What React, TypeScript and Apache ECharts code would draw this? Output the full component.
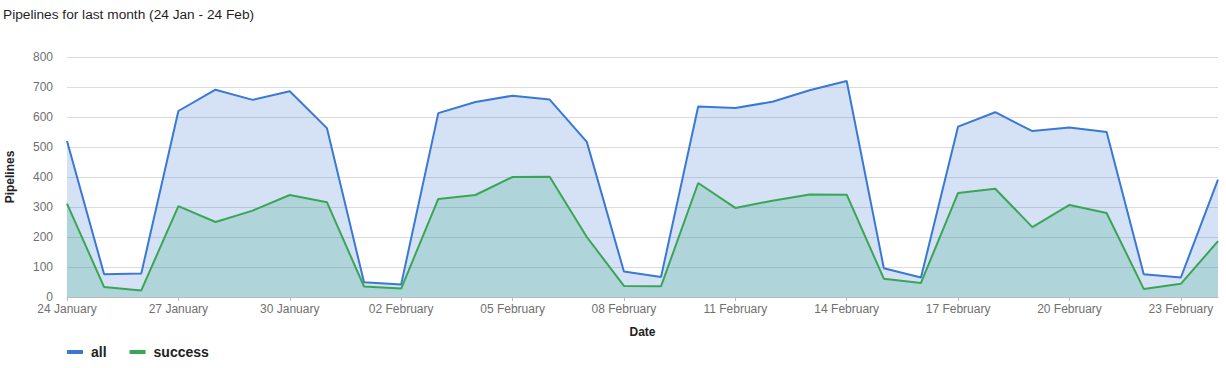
import React, { useEffect, useRef } from "react";
import * as echarts from "echarts";

const dates = [
  "24 January", "25 January", "26 January", "27 January", "28 January", "29 January", "30 January", "31 January",
  "01 February", "02 February", "03 February", "04 February", "05 February", "06 February", "07 February",
  "08 February", "09 February", "10 February", "11 February", "12 February", "13 February", "14 February",
  "15 February", "16 February", "17 February", "18 February", "19 February", "20 February", "21 February",
  "22 February", "23 February", "24 February",
];

const allValues = [
  520, 76, 78, 620, 691, 657, 686, 563, 49, 42, 613, 650, 671, 658, 517, 85, 67, 635, 630, 651, 689, 720,
  96, 65, 568, 616, 553, 565, 550, 76, 65, 391,
];

const successValues = [
  311, 33, 22, 303, 250, 288, 340, 316, 35, 28, 327, 340, 400, 401, 200, 37, 36, 380, 297, 321, 342, 341,
  61, 47, 347, 361, 233, 307, 280, 27, 44, 186,
];

const yTicks = { min: 0, max: 800, interval: 100 };

const FONT = "'Liberation Sans', Arial, Helvetica, sans-serif";

export default function App() {
  const ref = useRef<HTMLDivElement>(null);

  useEffect(() => {
    document.body.style.margin = "0";
    const chart = echarts.init(ref.current!, null, { renderer: "svg" });
    chart.setOption({
      animation: false,
      textStyle: { fontFamily: FONT },
      title: {
        text: "Pipelines for last month (24 Jan - 24 Feb)",
        left: 3,
        top: 7,
        padding: 0,
        textStyle: { fontSize: 13.7, fontWeight: "normal", color: "#1f1f1f", fontFamily: FONT },
      },
      grid: { left: 67, right: 8, top: 57, bottom: 71, containLabel: false, outerBoundsMode: "none" },
      legend: {
        left: 62,
        top: 340,
        itemWidth: 16,
        itemHeight: 4,
        itemGap: 23,
        icon: "rect",
        textStyle: { fontSize: 14, fontWeight: "bold", color: "#222", fontFamily: FONT, padding: [0, 0, 0, 3] },
        data: ["all", "success"],
      },
      xAxis: {
        type: "category",
        boundaryGap: false,
        data: dates,
        name: "Date",
        nameLocation: "middle",
        nameGap: 29,
        nameTextStyle: { fontSize: 12, fontWeight: "bold", color: "#222", fontFamily: FONT },
        axisLine: { lineStyle: { color: "#bbb" } },
        axisTick: { interval: 2, alignWithLabel: true, length: 4, lineStyle: { color: "#bbb" } },
        axisLabel: { interval: 2, color: "#707070", fontSize: 12, margin: 6, fontFamily: FONT },
        splitLine: { show: false },
      },
      yAxis: {
        type: "value",
        min: yTicks.min,
        max: yTicks.max,
        interval: yTicks.interval,
        name: "Pipelines",
        nameLocation: "middle",
        nameGap: 51,
        nameTextStyle: { fontSize: 12, fontWeight: "bold", color: "#222", fontFamily: FONT },
        axisLine: { show: false },
        axisTick: { show: false },
        axisLabel: { color: "#707070", fontSize: 12, margin: 14, fontFamily: FONT },
        splitLine: { lineStyle: { color: "#dcdcdc" } },
      },
      series: [
        {
          name: "all",
          type: "line",
          data: allValues,
          symbol: "none",
          lineStyle: { color: "#3a78d6", width: 2 },
          itemStyle: { color: "#3a78d6" },
          areaStyle: { color: "rgba(58,120,214,0.21)", opacity: 1 },
        },
        {
          name: "success",
          type: "line",
          data: successValues,
          symbol: "none",
          lineStyle: { color: "#3aa655", width: 2 },
          itemStyle: { color: "#3aa655" },
          areaStyle: { color: "rgba(40,166,120,0.22)", opacity: 1 },
        },
      ],
    });
    return () => chart.dispose();
  }, []);

  return <div ref={ref} style={{ width: 1226, height: 368 }} />;
}
